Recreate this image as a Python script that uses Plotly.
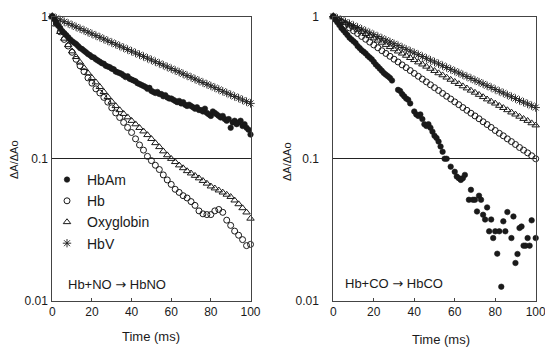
import plotly.graph_objects as go

# ---------------- data ----------------
t2 = list(range(0, 101, 2))
t1 = list(range(0, 101, 1))

# Left panel: Hb + NO -> HbNO
no_hbam = [1.000, 0.955, 0.905, 0.86, 0.83, 0.79, 0.765, 0.74, 0.715, 0.69,
           0.67, 0.655, 0.64, 0.62, 0.60, 0.59, 0.575, 0.56, 0.545, 0.535,
           0.52, 0.515, 0.50, 0.49, 0.48, 0.47, 0.465, 0.45, 0.445, 0.44,
           0.43, 0.425, 0.41, 0.405, 0.40, 0.395, 0.385, 0.375, 0.38, 0.365,
           0.36, 0.355, 0.35, 0.34, 0.335, 0.33, 0.325, 0.32, 0.31, 0.315,
           0.30, 0.295, 0.29, 0.295, 0.285, 0.285, 0.275, 0.28, 0.27, 0.265,
           0.265, 0.26, 0.255, 0.25, 0.255, 0.245, 0.25, 0.24, 0.235, 0.24,
           0.235, 0.23, 0.225, 0.23, 0.22, 0.22, 0.215, 0.225, 0.21, 0.205,
           0.20, 0.215, 0.21, 0.205, 0.20, 0.195, 0.20, 0.19, 0.185, 0.19,
           0.165, 0.18, 0.185, 0.175, 0.18, 0.185, 0.17, 0.175, 0.165, 0.16,
           0.148]
no_hb = [1.00, 0.90, 0.78, 0.69, 0.62, 0.56, 0.50, 0.45, 0.41, 0.37,
         0.34, 0.31, 0.29, 0.27, 0.25, 0.228, 0.21, 0.195, 0.18, 0.166,
         0.153, 0.138, 0.125, 0.115, 0.104, 0.097, 0.090, 0.084, 0.077, 0.071,
         0.066, 0.061, 0.058, 0.055, 0.053, 0.050, 0.047, 0.043, 0.041, 0.0405,
         0.0405, 0.043, 0.044, 0.042, 0.037, 0.034, 0.031, 0.029, 0.027, 0.0245,
         0.025]
no_oxy = [1.00, 0.88, 0.78, 0.70, 0.63, 0.57, 0.52, 0.475, 0.435, 0.40,
          0.37, 0.345, 0.32, 0.295, 0.272, 0.252, 0.235, 0.22, 0.207, 0.196,
          0.185, 0.175, 0.165, 0.156, 0.147, 0.138, 0.129, 0.121, 0.113, 0.106,
          0.100, 0.095, 0.090, 0.086, 0.082, 0.079, 0.076, 0.073, 0.070, 0.067,
          0.064, 0.062, 0.060, 0.058, 0.056, 0.054, 0.051, 0.048, 0.045, 0.042,
          0.038]
no_hbv = [1.000, 0.972, 0.945, 0.919, 0.894, 0.869, 0.845, 0.821, 0.799, 0.776,
          0.755, 0.734, 0.714, 0.694, 0.674, 0.656, 0.638, 0.620, 0.603, 0.586,
          0.570, 0.554, 0.539, 0.524, 0.509, 0.495, 0.481, 0.468, 0.455, 0.442,
          0.430, 0.418, 0.407, 0.395, 0.384, 0.374, 0.363, 0.353, 0.343, 0.334,
          0.325, 0.316, 0.307, 0.298, 0.290, 0.282, 0.274, 0.267, 0.259, 0.252,
          0.245]

# Right panel: Hb + CO -> HbCO
co_hbam_t = [0, 1, 2, 3, 4, 5, 6, 7, 8, 9, 10, 11, 12, 13, 14, 15, 16, 17, 18, 19,
             20, 21, 22, 23, 24, 25, 26, 27, 28, 29, 32, 33, 34, 35, 36, 37, 38,
             40, 41, 42, 43, 44, 45, 46, 47, 48, 49, 50, 51, 52, 53, 54, 55, 56,
             58, 60, 61, 62, 63, 64, 65, 67, 68, 69, 70, 71, 72, 73, 74, 75, 76,
             77, 78, 79, 80, 81, 82, 83, 84, 85, 86, 88, 89, 90, 91, 92, 93, 94,
             95, 96, 97, 98, 100]
co_hbam = [1.0, 0.95, 0.91, 0.87, 0.83, 0.80, 0.77, 0.74, 0.71, 0.69,
           0.67, 0.65, 0.62, 0.60, 0.58, 0.565, 0.55, 0.53, 0.515, 0.50,
           0.48, 0.46, 0.445, 0.43, 0.415, 0.40, 0.39, 0.38, 0.37, 0.355,
           0.305, 0.30, 0.285, 0.275, 0.265, 0.26, 0.245,
           0.215, 0.205, 0.20, 0.205, 0.19, 0.175, 0.17, 0.175, 0.165, 0.155,
           0.145, 0.14, 0.132, 0.122, 0.112, 0.100, 0.100,
           0.088, 0.081, 0.075, 0.073, 0.071, 0.073, 0.077, 0.0515, 0.0605,
           0.0515, 0.0515, 0.0426, 0.055, 0.0515, 0.0404, 0.0374, 0.0455,
           0.0309, 0.0374, 0.0277, 0.0309, 0.0215, 0.0309, 0.0126, 0.0363,
           0.0309, 0.0422, 0.0277, 0.0393, 0.0185, 0.0214, 0.0326, 0.0334,
           0.0245, 0.0245, 0.0277, 0.0245, 0.0369, 0.0277]
co_hb = [1.000, 0.955, 0.912, 0.871, 0.832, 0.794, 0.759, 0.724, 0.692, 0.661,
         0.631, 0.603, 0.575, 0.550, 0.525, 0.501, 0.479, 0.457, 0.437, 0.417,
         0.398, 0.380, 0.363, 0.347, 0.331, 0.316, 0.302, 0.288, 0.275, 0.263,
         0.251, 0.240, 0.229, 0.219, 0.209, 0.200, 0.191, 0.182, 0.174, 0.166,
         0.158, 0.151, 0.145, 0.138, 0.132, 0.126, 0.120, 0.115, 0.110, 0.105,
         0.100]
co_oxy = [1.000, 0.965, 0.932, 0.900, 0.869, 0.839, 0.810, 0.782, 0.755, 0.729,
          0.703, 0.679, 0.656, 0.633, 0.611, 0.590, 0.569, 0.550, 0.531, 0.512,
          0.495, 0.477, 0.461, 0.445, 0.430, 0.415, 0.400, 0.387, 0.373, 0.360,
          0.348, 0.336, 0.324, 0.313, 0.302, 0.292, 0.282, 0.272, 0.262, 0.253,
          0.245, 0.236, 0.228, 0.220, 0.212, 0.205, 0.198, 0.191, 0.185, 0.178,
          0.172]
co_hbv = [1.000, 0.971, 0.943, 0.915, 0.889, 0.863, 0.838, 0.814, 0.790, 0.767,
          0.745, 0.723, 0.702, 0.682, 0.662, 0.643, 0.624, 0.606, 0.588, 0.571,
          0.555, 0.539, 0.523, 0.508, 0.493, 0.479, 0.465, 0.451, 0.438, 0.425,
          0.413, 0.401, 0.389, 0.378, 0.367, 0.356, 0.346, 0.336, 0.326, 0.317,
          0.307, 0.298, 0.290, 0.281, 0.273, 0.265, 0.257, 0.250, 0.243, 0.236,
          0.229]

series_names = ["HbAm", "Hb", "Oxyglobin", "HbV"]
x_ticks = [0, 20, 40, 60, 80, 100]
y_ticks = [0.01, 0.1, 1]
y_ticktext = ["0.01", "0.1", "1"]

# ---------------- styling ----------------
FONT = "Liberation Sans, Arial, sans-serif"
INK = "#1a1a1a"
styles = {
    "HbAm": dict(symbol="circle", size=5.5, color=INK, line=dict(width=0.6, color=INK)),
    "Hb": dict(symbol="circle-open", size=6, color=INK, line=dict(width=1, color=INK)),
    "Oxyglobin": dict(symbol="triangle-up-open", size=6.5, color=INK, line=dict(width=1, color=INK)),
    "HbV": dict(symbol="asterisk-open", size=7, color=INK, line=dict(width=0.9, color=INK)),
}

fig = go.Figure()

left = [("HbAm", t1, no_hbam), ("Hb", t2, no_hb), ("Oxyglobin", t2, no_oxy), ("HbV", t2, no_hbv)]
right = [("HbAm", co_hbam_t, co_hbam), ("Hb", t2, co_hb), ("Oxyglobin", t2, co_oxy), ("HbV", t2, co_hbv)]

for name, xs, ys in left:
    fig.add_trace(go.Scatter(x=xs, y=ys, mode="markers", name=name, legendgroup=name,
                             marker=styles[name], cliponaxis=False, xaxis="x", yaxis="y"))
for name, xs, ys in right:
    fig.add_trace(go.Scatter(x=xs, y=ys, mode="markers", name=name, legendgroup=name,
                             showlegend=False, marker=styles[name], cliponaxis=False,
                             xaxis="x2", yaxis="y2"))

W, H = 545, 348
def px_x(p):
    return p / W
def px_y(p):
    return 1 - p / H

ydom = [px_y(301), px_y(16.5)]
axis_common = dict(showline=True, linecolor="#444", linewidth=1, mirror=True,
                   ticks="inside", ticklen=3, tickcolor="#444", zeroline=False,
                   automargin=False, ticklabeloverflow="allow",
                   tickfont=dict(family=FONT, size=12, color=INK))
xcommon = dict(axis_common, range=[0, 100], tickvals=x_ticks, showgrid=False)
ycommon = dict(axis_common, type="log", range=[-2, 0], tickvals=y_ticks, ticktext=y_ticktext,
               showgrid=True, gridcolor="#222", gridwidth=1,
               ticks="outside", tickcolor="rgba(0,0,0,0)")

fig.update_layout(
    width=W, height=H,
    margin=dict(l=0, r=0, t=0, b=0, autoexpand=False),
    paper_bgcolor="white", plot_bgcolor="white",
    font=dict(family=FONT, color=INK),
    xaxis=dict(xcommon, domain=[px_x(52.3), px_x(250.5)], anchor="y"),
    yaxis=dict(ycommon, domain=ydom, anchor="x", ticklen=1),
    xaxis2=dict(xcommon, domain=[px_x(333.3), px_x(535.7)], anchor="y2"),
    yaxis2=dict(ycommon, domain=ydom, anchor="x2", ticklen=11),
    showlegend=True,
    legend=dict(x=px_x(47), y=px_y(164), xanchor="left", yanchor="top",
                bgcolor="rgba(0,0,0,0)", font=dict(family=FONT, size=14, color=INK),
                tracegroupgap=0, itemwidth=30),
)

ARROW = "<span style='font-family:DejaVu Sans'>\u2192</span>"
annots = [
    dict(text="Hb+NO " + ARROW + " HbNO", x=px_x(66), y=px_y(284), xanchor="left",
         yanchor="middle", font=dict(size=13)),
    dict(text="Hb+CO " + ARROW + " HbCO", x=px_x(343), y=px_y(283), xanchor="left",
         yanchor="middle", font=dict(size=13)),
    dict(text="\u0394A/\u0394Ao", x=px_x(14), y=px_y(160), textangle=-90, xanchor="center",
         yanchor="middle", font=dict(size=11)),
    dict(text="\u0394A/\u0394Ao", x=px_x(287), y=px_y(162), textangle=-90, xanchor="center",
         yanchor="middle", font=dict(size=11)),
    dict(text="Time (ms)", x=px_x(151), y=px_y(336), xanchor="center", yanchor="middle",
         font=dict(size=13)),
    dict(text="Time (ms)", x=px_x(441), y=px_y(339), xanchor="center", yanchor="middle",
         font=dict(size=13)),
]
for a in annots:
    a.update(xref="paper", yref="paper", showarrow=False)
    a["font"] = dict(family=FONT, color=INK, size=a["font"]["size"])
fig.update_layout(annotations=annots)

fig.write_html("out.html", config={"displayModeBar": False},
               post_script="document.body.style.margin='0px';document.body.style.overflow='hidden';")
